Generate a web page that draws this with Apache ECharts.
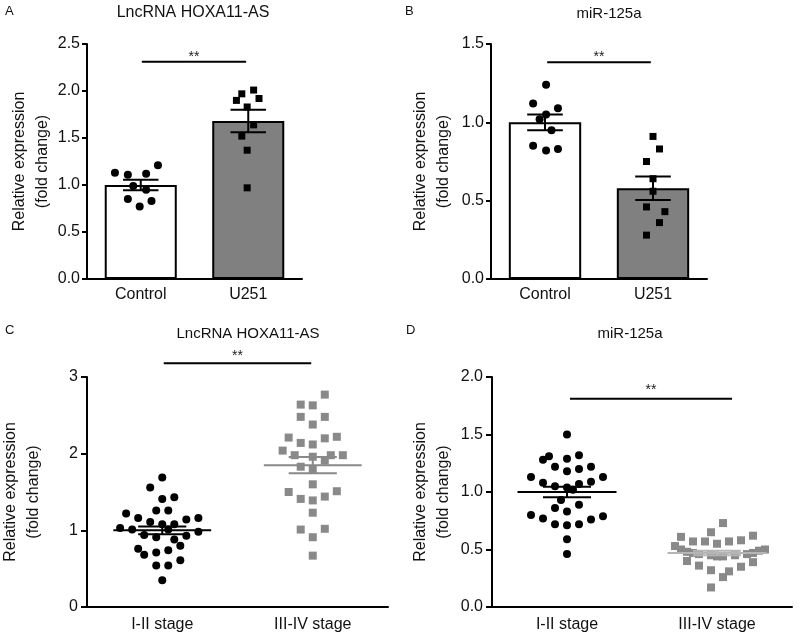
<!DOCTYPE html>
<html><head><meta charset="utf-8">
<script src="https://cdn.jsdelivr.net/npm/echarts@6/dist/echarts.min.js"></script>
<style>html,body{margin:0;padding:0;background:#fff}#c{width:800px;height:640px}</style>
</head><body><div id="c"></div>
<script>
// ---------------- data ----------------
const catsAB = ['Control', 'U251'];
const catsCD = ['I-II stage', 'III-IV stage'];
const panelLetters = ['A', 'B', 'C', 'D'];
const panelTitles = ['LncRNA HOXA11-AS', 'miR-125a', 'LncRNA HOXA11-AS', 'miR-125a'];
const yNameText = 'Relative expression\n(fold change)';
const sigText = '**';

// Panel A (bar + points)
const aCtrlVals = [1.13, 1.11, 1.12, 1.21, 0.99, 0.95, 0.85, 0.83, 0.77];
const aCtrlJit  = [-0.24, -0.12, 0.05, 0.16, -0.07, 0.05, -0.12, 0.10, -0.01];
const aU251Vals = [1.90, 1.97, 2.01, 1.92, 1.83, 1.64, 1.52, 1.37, 0.97];
const aU251Jit  = [-0.11, -0.06, 0.05, 0.10, -0.01, 0.05, -0.06, -0.01, -0.01];
const aMeans = [1.00, 1.68];
const aSems  = [0.055, 0.12];
const aSig   = [0.01, 0.98, 2.31];

// Panel B
const bCtrlVals = [1.24, 1.12, 1.09, 1.05, 1.02, 0.95, 0.85, 0.82, 0.83];
const bCtrlJit  = [0.01, -0.11, 0.12, 0.01, -0.05, 0.06, -0.11, 0.01, 0.12];
const bU251Vals = [0.91, 0.83, 0.75, 0.64, 0.56, 0.46, 0.43, 0.36, 0.28];
const bU251Jit  = [0.00, 0.06, -0.06, 0.00, 0.00, -0.06, 0.11, 0.06, -0.06];
const bMeans = [1.00, 0.58];
const bSems  = [0.05, 0.075];
const bSig   = [0.02, 0.98, 1.383];

// Panel C (scatter, jitter in slots)
const cLowVals = [1.69,1.56,1.41,1.43,1.22,1.16,1.26,1.26,1.11,1.08,1.08,1.14,1.16,1.03,1.01,0.94,0.91,1.01,0.88,0.93,0.98,0.80,0.76,0.68,0.71,0.74,0.61,0.54,0.54,0.35];
const cLowSlot = [0,-2,0,2,-6,-4,-1,1,-2,0,2,4,6,-7,-5,-3,-1,1,2,4,6,3,-4,-3,-1,1,3,-1,1,0];
const cHighVals = [2.77,2.64,2.63,2.48,2.48,2.38,2.21,2.14,2.12,2.20,2.22,2.04,1.98,1.96,1.98,1.98,1.91,1.83,1.79,1.60,1.50,1.41,1.39,1.44,1.51,1.23,1.01,1.02,0.91,0.67];
const cHighSlot = [2,-2,0,-2,2,0,-4,-2,0,2,4,-5,-3,0,3,5,2,-2,0,0,-4,-2,0,2,4,0,-2,2,0,0];
const cMeans = [1.00, 1.85];
const cSems  = [0.05, 0.105];
const cSig   = [0.01, 0.99, 3.18];

// Panel D
const dLowVals = [1.50,1.28,1.31,1.29,1.32,1.22,1.18,1.20,1.22,1.13,1.13,1.08,1.05,1.04,1.07,1.09,1.02,0.93,0.89,0.86,0.83,0.80,0.77,0.79,0.76,0.72,0.71,0.72,0.59,0.46];
const dLowSlot = [0,-4,-3,0,2,-2,0,2,4,-6,6,-4,-2,0,2,4,1,-1,2,-2,0,-6,-4,6,4,-2,0,2,0,0];
const dHighVals = [0.73,0.65,0.61,0.57,0.57,0.55,0.57,0.58,0.62,0.53,0.50,0.40,0.36,0.32,0.31,0.35,0.39,0.26,0.17,0.50,0.48,0.47,0.46,0.45,0.44,0.44,0.45,0.46,0.47,0.49];
const dHighSlot = [1,-1,-6,-4,-2,0,2,4,6,-7,8,-5,-3,-1,2,4,6,1,-1,-6,-5,-4,-3,-1,0,1,3,5,6,7];
const dMeans = [1.00, 0.47];
const dSems  = [0.045, 0.02];
const dSig   = [0.02, 1.10, 1.81];

// ---------------- layout / style ----------------
const FONT = '"Liberation Sans", Arial, Helvetica, sans-serif';
const SLOT = 0.04; // category units per jitter slot
const BLACK = '#000';
const GRAY = '#898989';

const grids = [
  {left: 87, top: 44, width: 215, height: 235},
  {left: 491, top: 44, width: 216, height: 235},
  {left: 87, top: 377, width: 301, height: 230},
  {left: 492, top: 377, width: 300, height: 230}
];

function pts(vals, offs, idx, scale) {
  return vals.map((v, i) => [idx + offs[i] * scale, v]);
}

function yAxisCfg(gi, max, interval, dec, gap, tickLen, margin) {
  return {
    type: 'value', gridIndex: gi, min: 0, max: max, interval: interval,
    axisLine: {show: true, onZero: false, lineStyle: {color: BLACK, width: 2}},
    axisTick: {show: true, length: tickLen, lineStyle: {color: BLACK, width: 2}},
    axisLabel: {fontSize: 16, fontFamily: FONT, color: '#111', margin: margin,
      formatter: v => v.toFixed(dec)},
    splitLine: {show: false},
    name: yNameText, nameLocation: 'middle', nameRotate: 90, nameGap: gap,
    nameTextStyle: {fontSize: 16, lineHeight: 23, fontFamily: FONT, color: '#111', align: 'center'}
  };
}
function xCatCfg(gi, cats, margin) {
  return {
    type: 'category', gridIndex: gi, data: cats,
    axisLine: {show: true, onZero: false, lineStyle: {color: BLACK, width: 2}},
    axisTick: {show: false},
    axisLabel: {fontSize: 16, fontFamily: FONT, color: '#111', margin: margin}
  };
}
function xValCfg(gi) {
  return {type: 'value', gridIndex: gi, min: -0.5, max: 1.5, show: false,
    axisLine: {show: false, onZero: false}};
}

function errRender(capW, meanW, colors, lw) {
  return function (params, api) {
    const x = api.value(0), m = api.value(1), s = api.value(2);
    const c = api.coord([x, m]), t = api.coord([x, m + s]), b = api.coord([x, m - s]);
    const cw = api.size([capW, 0])[0] / 2;
    const mw = api.size([meanW, 0])[0] / 2;
    const st = {stroke: colors[params.dataIndex], lineWidth: lw};
    const ch = [
      {type: 'line', shape: {x1: c[0], y1: t[1], x2: c[0], y2: b[1]}, style: st},
      {type: 'line', shape: {x1: c[0] - cw, y1: t[1], x2: c[0] + cw, y2: t[1]}, style: st},
      {type: 'line', shape: {x1: c[0] - cw, y1: b[1], x2: c[0] + cw, y2: b[1]}, style: st}
    ];
    if (meanW > 0) ch.push({type: 'line', shape: {x1: c[0] - mw, y1: c[1], x2: c[0] + mw, y2: c[1]}, style: st});
    return {type: 'group', children: ch};
  };
}
function sigRender(textOff) {
  return function (params, api) {
    const p0 = api.coord([api.value(0), api.value(2)]);
    const p1 = api.coord([api.value(1), api.value(2)]);
    return {type: 'group', children: [
      {type: 'line', shape: {x1: p0[0], y1: p0[1], x2: p1[0], y2: p1[1]}, style: {stroke: BLACK, lineWidth: 2}},
      {type: 'text', x: (p0[0] + p1[0]) / 2, y: p0[1] - textOff,
        style: {text: sigText, fill: '#222', font: '14px ' + FONT, align: 'center', verticalAlign: 'middle'}}
    ]};
  };
}
function errSeries(p, means, sems, capW, meanW, colors) {
  return {type: 'custom', xAxisIndex: 2 * p + 1, yAxisIndex: p, z: 5, clip: false,
    renderItem: errRender(capW, meanW, colors, 2), encode: {x: 0, y: 1},
    data: means.map((m, i) => [i, m, sems[i]]), silent: true};
}
function sigSeries(p, sig, off) {
  return {type: 'custom', xAxisIndex: 2 * p + 1, yAxisIndex: p, z: 6, clip: false,
    renderItem: sigRender(off), encode: {x: 0, y: 2}, data: [sig], silent: true};
}
function scatterSeries(p, data, symbol, size, color) {
  return {type: 'scatter', xAxisIndex: 2 * p + 1, yAxisIndex: p, z: 4, symbol: symbol,
    symbolSize: size, itemStyle: {color: color, opacity: 1}, data: data, silent: true};
}
function barSeries(p, means) {
  return {type: 'bar', xAxisIndex: 2 * p, yAxisIndex: p, z: 2, barWidth: '67%', silent: true,
    data: means.map((m, i) => ({value: m, itemStyle: {color: i === 0 ? '#ffffff' : '#808080',
      borderColor: BLACK, borderWidth: 2}}))};
}

const titles = [];
const letterPos = [[5, 5], [405, 5], [5, 324], [406, 324]];
const titlePos = [[193, 5], [609, 6], [248, 326], [630, 326]];
const titleSizes = [16, 15, 15, 15];
for (let i = 0; i < 4; i++) {
  titles.push({text: panelLetters[i], left: letterPos[i][0], top: letterPos[i][1], padding: 0,
    textStyle: {fontSize: 13, fontWeight: 'normal', fontFamily: FONT, color: '#111'}});
  titles.push({text: panelTitles[i], left: titlePos[i][0], top: titlePos[i][1], padding: 0, textAlign: 'center',
    textStyle: {fontSize: titleSizes[i], fontWeight: 'normal', fontFamily: FONT, color: '#111'}});
}

const option = {
  animation: false,
  backgroundColor: '#fff',
  title: titles,
  grid: grids.map(g => Object.assign({containLabel: false, outerBoundsMode: 'none'}, g)),
  xAxis: [
    xCatCfg(0, catsAB, 8), xValCfg(0),
    xCatCfg(1, catsAB, 8), xValCfg(1),
    xCatCfg(2, catsCD, 10), xValCfg(2),
    xCatCfg(3, catsCD, 10), xValCfg(3)
  ],
  yAxis: [
    yAxisCfg(0, 2.5, 0.5, 1, 32, 5, 7),
    yAxisCfg(1, 1.5, 0.5, 1, 36, 5, 7),
    yAxisCfg(2, 3, 1, 0, 42, 6, 9),
    yAxisCfg(3, 2.0, 0.5, 1, 37, 6, 9)
  ],
  series: [
    barSeries(0, aMeans),
    scatterSeries(0, pts(aCtrlVals, aCtrlJit, 0, 1), 'circle', 8, BLACK),
    scatterSeries(0, pts(aU251Vals, aU251Jit, 1, 1), 'rect', 7, BLACK),
    errSeries(0, aMeans, aSems, 0.33, 0, [BLACK, BLACK]),
    sigSeries(0, aSig, 5),

    barSeries(1, bMeans),
    scatterSeries(1, pts(bCtrlVals, bCtrlJit, 0, 1), 'circle', 8, BLACK),
    scatterSeries(1, pts(bU251Vals, bU251Jit, 1, 1), 'rect', 7, BLACK),
    errSeries(1, bMeans, bSems, 0.33, 0, [BLACK, BLACK]),
    sigSeries(1, bSig, 5),

    scatterSeries(2, pts(cLowVals, cLowSlot, 0, SLOT), 'circle', 8, BLACK),
    scatterSeries(2, pts(cHighVals, cHighSlot, 1, SLOT), 'rect', 8, GRAY),
    errSeries(2, cMeans, cSems, 0.32, 0.65, [BLACK, GRAY]),
    sigSeries(2, cSig, 7),

    scatterSeries(3, pts(dLowVals, dLowSlot, 0, SLOT), 'circle', 8, BLACK),
    scatterSeries(3, pts(dHighVals, dHighSlot, 1, SLOT), 'rect', 8, GRAY),
    errSeries(3, dMeans, dSems, 0.32, 0.66, [BLACK, '#b5b5b5']),
    sigSeries(3, dSig, 9)
  ]
};

const chart = echarts.init(document.getElementById('c'), null, {renderer: 'canvas'});
chart.setOption(option);
</script>
</body></html>
